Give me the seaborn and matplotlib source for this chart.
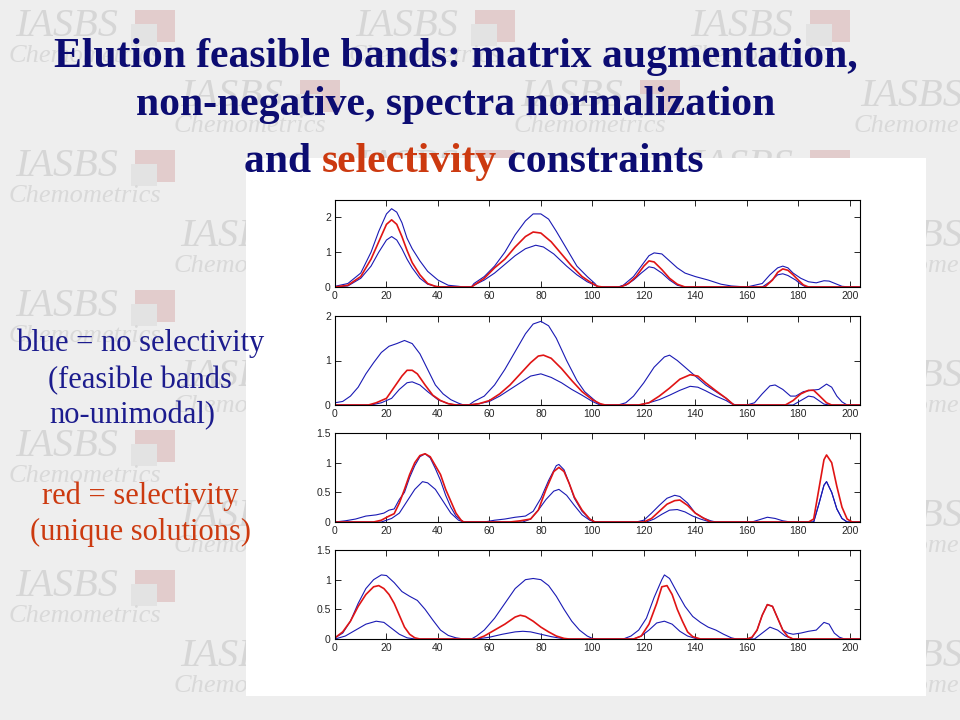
import numpy as np
import pandas as pd
import matplotlib
matplotlib.use("Agg")
import matplotlib.pyplot as plt
import seaborn as sns
from matplotlib.patches import Rectangle

# valores: pares (tempo, concentração) por curva
# painel 1
p1_hi = [(0, 0.02), (5, 0.1), (10, 0.4), (14, 1.0), (17, 1.6), (20, 2.1), (22, 2.25), (24, 2.15),
         (26, 1.85), (28, 1.4), (30, 1.1), (33, 0.75), (36, 0.45), (40, 0.2), (44, 0.05), (48, 0.02),
         (50, 0), (53, 0), (54, 0.1), (58, 0.3), (62, 0.6), (66, 1.0), (70, 1.5), (74, 1.9), (77, 2.1),
         (80, 2.1), (83, 1.95), (86, 1.6), (90, 1.1), (94, 0.6), (98, 0.3), (101, 0.1), (102, 0),
         (110, 0), (112, 0.05), (116, 0.3), (119, 0.6), (122, 0.9), (124, 0.98), (127, 0.95),
         (130, 0.75), (133, 0.55), (136, 0.4), (140, 0.3), (145, 0.2), (150, 0.08), (154, 0.03),
         (160, 0), (163, 0.05), (166, 0.1), (169, 0.35), (172, 0.55), (174, 0.6), (176, 0.55),
         (178, 0.4), (181, 0.25), (184, 0.15), (187, 0.12), (190, 0.18), (192, 0.17), (195, 0.08),
         (197, 0.02), (200, 0), (204, 0)]
p1_lo = [(0, 0), (5, 0.03), (10, 0.25), (14, 0.6), (17, 1.0), (20, 1.35), (22, 1.45), (24, 1.35),
         (26, 1.1), (28, 0.8), (30, 0.55), (33, 0.25), (36, 0.08), (40, 0), (53, 0), (54, 0.05),
         (58, 0.2), (62, 0.4), (66, 0.65), (70, 0.9), (74, 1.1), (78, 1.2), (81, 1.15), (85, 0.95),
         (90, 0.6), (94, 0.35), (98, 0.15), (101, 0.05), (103, 0), (110, 0), (113, 0.05), (116, 0.2),
         (119, 0.4), (122, 0.58), (124, 0.55), (127, 0.4), (130, 0.2), (133, 0.05), (136, 0),
         (166, 0), (169, 0.15), (172, 0.35), (174, 0.38), (176, 0.33), (179, 0.2), (181, 0.08),
         (183, 0), (204, 0)]
p1_red = [(0, 0), (5, 0.05), (10, 0.3), (14, 0.8), (17, 1.3), (20, 1.8), (22, 1.93), (24, 1.8),
          (26, 1.45), (28, 1.05), (30, 0.7), (33, 0.35), (36, 0.1), (39, 0.02), (41, 0), (53, 0),
          (54, 0.05), (58, 0.25), (62, 0.55), (66, 0.8), (70, 1.15), (74, 1.45), (77, 1.58),
          (80, 1.55), (84, 1.3), (88, 0.95), (92, 0.6), (96, 0.3), (100, 0.1), (102, 0.02), (104, 0),
          (111, 0), (114, 0.1), (117, 0.3), (120, 0.6), (122, 0.75), (124, 0.72), (127, 0.5),
          (130, 0.25), (133, 0.08), (136, 0), (167, 0), (170, 0.2), (172, 0.42), (174, 0.52),
          (176, 0.48), (178, 0.35), (180, 0.2), (182, 0.06), (184, 0), (204, 0)]

# painel 2
p2_hi = [(0, 0.05), (3, 0.08), (6, 0.2), (9, 0.4), (12, 0.7), (15, 0.95), (18, 1.18), (21, 1.32),
         (24, 1.38), (27, 1.45), (30, 1.38), (33, 1.15), (36, 0.8), (39, 0.45), (42, 0.25),
         (45, 0.12), (48, 0.04), (50, 0), (52, 0), (54, 0.08), (58, 0.2), (62, 0.45), (66, 0.8),
         (70, 1.2), (74, 1.6), (77, 1.82), (80, 1.88), (83, 1.78), (86, 1.5), (90, 1.0), (94, 0.55),
         (97, 0.3), (100, 0.15), (102, 0.05), (104, 0), (110, 0), (113, 0.05), (116, 0.2),
         (120, 0.5), (124, 0.85), (128, 1.08), (130, 1.12), (133, 1.0), (136, 0.85), (140, 0.65),
         (144, 0.45), (148, 0.3), (152, 0.15), (154, 0.05), (155, 0), (160, 0), (163, 0.05),
         (166, 0.25), (169, 0.43), (171, 0.45), (174, 0.35), (177, 0.2), (179, 0.2), (182, 0.3),
         (185, 0.33), (188, 0.35), (191, 0.47), (193, 0.4), (195, 0.2), (197, 0.07), (199, 0),
         (204, 0)]
p2_lo = [(0, 0), (14, 0), (18, 0.05), (22, 0.15), (25, 0.35), (28, 0.5), (30, 0.52), (33, 0.45),
         (36, 0.3), (40, 0.12), (44, 0.03), (47, 0), (52, 0), (56, 0.03), (60, 0.08), (64, 0.2),
         (68, 0.35), (72, 0.5), (76, 0.65), (80, 0.7), (84, 0.62), (88, 0.5), (92, 0.35), (96, 0.22),
         (100, 0.08), (103, 0), (118, 0), (122, 0.05), (126, 0.12), (130, 0.22), (134, 0.33),
         (138, 0.42), (141, 0.4), (144, 0.32), (148, 0.2), (152, 0.1), (154, 0.03), (156, 0),
         (178, 0), (181, 0.1), (184, 0.2), (186, 0.18), (188, 0.1), (190, 0.02), (192, 0), (204, 0)]
p2_red = [(0, 0), (13, 0), (16, 0.05), (20, 0.15), (23, 0.4), (26, 0.65), (28, 0.78), (30, 0.78),
          (32, 0.7), (35, 0.45), (38, 0.22), (41, 0.1), (44, 0.03), (47, 0), (52, 0), (56, 0.03),
          (60, 0.1), (64, 0.25), (68, 0.45), (72, 0.7), (76, 0.95), (79, 1.1), (81, 1.12),
          (84, 1.05), (88, 0.82), (92, 0.55), (96, 0.3), (100, 0.12), (103, 0.03), (105, 0),
          (118, 0), (122, 0.05), (126, 0.2), (130, 0.38), (134, 0.58), (138, 0.68), (141, 0.65),
          (144, 0.5), (148, 0.32), (152, 0.15), (154, 0.05), (155, 0), (175, 0), (178, 0.1),
          (181, 0.25), (184, 0.33), (186, 0.33), (188, 0.22), (191, 0.05), (193, 0), (204, 0)]

# painel 3
p3_hi = [(0, 0), (4, 0.02), (8, 0.05), (12, 0.1), (16, 0.12), (19, 0.15), (21, 0.2), (23, 0.22),
         (25, 0.38), (27, 0.5), (29, 0.75), (31, 0.95), (33, 1.1), (35, 1.15), (37, 1.08),
         (39, 0.9), (41, 0.7), (43, 0.45), (45, 0.25), (47, 0.1), (49, 0.03), (50, 0), (58, 0),
         (62, 0.03), (66, 0.05), (70, 0.08), (74, 0.1), (77, 0.18), (80, 0.4), (83, 0.7),
         (86, 0.95), (87, 0.97), (89, 0.88), (91, 0.65), (93, 0.4), (96, 0.18), (99, 0.05),
         (101, 0), (117, 0), (120, 0.03), (123, 0.15), (126, 0.28), (129, 0.4), (132, 0.45),
         (134, 0.43), (137, 0.32), (140, 0.15), (143, 0.07), (146, 0.02), (148, 0), (162, 0),
         (165, 0.04), (168, 0.08), (171, 0.06), (174, 0.02), (177, 0), (186, 0), (188, 0.3),
         (190, 0.62), (191, 0.68), (193, 0.5), (195, 0.22), (197, 0.06), (199, 0), (204, 0)]
p3_lo = [(0, 0), (18, 0), (20, 0.03), (22, 0.06), (25, 0.15), (28, 0.35), (31, 0.55), (34, 0.68),
         (36, 0.66), (39, 0.55), (42, 0.35), (45, 0.15), (48, 0.03), (50, 0), (73, 0), (76, 0.05),
         (79, 0.2), (82, 0.38), (85, 0.52), (87, 0.55), (90, 0.45), (93, 0.28), (96, 0.12),
         (99, 0.03), (101, 0), (121, 0), (124, 0.05), (127, 0.13), (130, 0.2), (133, 0.21),
         (136, 0.17), (139, 0.1), (142, 0.05), (145, 0.01), (147, 0), (186, 0), (188, 0.3),
         (190, 0.62), (191, 0.68), (193, 0.5), (195, 0.22), (197, 0.06), (199, 0), (204, 0)]
p3_red = [(0, 0), (15, 0), (18, 0.03), (21, 0.1), (23, 0.14), (25, 0.32), (27, 0.55), (29, 0.8),
          (31, 1.0), (33, 1.12), (35, 1.15), (37, 1.1), (39, 0.95), (41, 0.8), (43, 0.55),
          (45, 0.35), (47, 0.15), (49, 0.03), (50, 0), (68, 0), (72, 0.02), (76, 0.05), (79, 0.2),
          (82, 0.55), (85, 0.85), (87, 0.92), (89, 0.85), (91, 0.65), (93, 0.42), (96, 0.2),
          (99, 0.05), (101, 0), (120, 0), (123, 0.06), (126, 0.18), (129, 0.3), (132, 0.36),
          (134, 0.37), (137, 0.28), (140, 0.15), (143, 0.07), (146, 0), (184, 0), (186, 0.05),
          (188, 0.55), (190, 1.05), (191, 1.13), (193, 1.0), (195, 0.6), (197, 0.25), (199, 0.05),
          (201, 0), (204, 0)]

# painel 4
p4_hi = [(0, 0.02), (3, 0.1), (6, 0.3), (9, 0.6), (12, 0.85), (15, 1.0), (18, 1.08), (20, 1.07),
         (23, 0.95), (26, 0.8), (29, 0.72), (32, 0.65), (35, 0.5), (38, 0.32), (41, 0.15),
         (44, 0.06), (47, 0.02), (50, 0), (53, 0), (55, 0.05), (58, 0.15), (62, 0.35), (66, 0.6),
         (70, 0.85), (74, 1.0), (77, 1.02), (80, 1.0), (83, 0.9), (86, 0.72), (89, 0.5), (92, 0.3),
         (95, 0.15), (98, 0.05), (100, 0.01), (102, 0), (112, 0), (115, 0.05), (118, 0.15),
         (121, 0.35), (124, 0.7), (127, 1.0), (128, 1.08), (130, 1.02), (133, 0.78), (136, 0.55),
         (139, 0.38), (142, 0.28), (145, 0.2), (148, 0.15), (151, 0.08), (154, 0.02), (156, 0),
         (160, 0), (162, 0.02), (164, 0.15), (166, 0.4), (168, 0.58), (170, 0.55), (172, 0.35),
         (174, 0.15), (176, 0.1), (178, 0.08), (181, 0.1), (184, 0.13), (187, 0.15), (190, 0.28),
         (192, 0.25), (194, 0.1), (196, 0.03), (198, 0), (204, 0)]
p4_lo = [(0, 0), (4, 0.05), (8, 0.15), (12, 0.25), (16, 0.3), (19, 0.28), (22, 0.18), (25, 0.08),
         (28, 0.02), (31, 0), (55, 0), (60, 0.03), (65, 0.08), (70, 0.12), (73, 0.13), (76, 0.12),
         (80, 0.08), (84, 0.04), (88, 0.01), (90, 0), (116, 0), (119, 0.05), (122, 0.15),
         (125, 0.27), (128, 0.3), (131, 0.25), (134, 0.13), (137, 0.05), (140, 0.01), (142, 0),
         (163, 0), (166, 0.1), (169, 0.2), (172, 0.15), (175, 0.05), (178, 0), (204, 0)]
p4_red = [(0, 0.02), (3, 0.12), (6, 0.3), (9, 0.55), (12, 0.75), (15, 0.88), (17, 0.9), (19, 0.85),
          (21, 0.75), (23, 0.6), (25, 0.4), (27, 0.2), (29, 0.08), (31, 0.02), (33, 0), (55, 0),
          (58, 0.05), (62, 0.15), (66, 0.25), (70, 0.37), (72, 0.4), (74, 0.38), (77, 0.3),
          (80, 0.2), (83, 0.12), (86, 0.05), (89, 0.01), (91, 0), (116, 0), (119, 0.05),
          (122, 0.25), (125, 0.6), (127, 0.88), (129, 0.9), (131, 0.75), (133, 0.5), (135, 0.3),
          (137, 0.12), (139, 0.04), (142, 0), (160, 0), (162, 0.03), (164, 0.15), (166, 0.4),
          (168, 0.58), (170, 0.55), (172, 0.35), (174, 0.15), (176, 0.04), (178, 0), (204, 0)]

x_ticks = [0, 20, 40, 60, 80, 100, 120, 140, 160, 180, 200]
y_ticks_a = [0, 1, 2]
y_labels_a = ["0", "1", "2"]
y_ticks_b = [0, 0.5, 1, 1.5]
y_labels_b = ["0", "0.5", "1", "1.5"]

title_lines = ["Elution feasible bands: matrix augmentation,",
               "non-negative, spectra normalization"]
title_last = ["and ", "selectivity", " constraints"]
side_blue = ["blue = no selectivity", "(feasible bands", "no-unimodal)"]
side_red = ["red = selectivity", "(unique solutions)"]

BLUE = "#1a1ab4"
RED = "#e01414"
NAVY = "#0c0c72"
ORANGE = "#cc3a10"

sns.set_style("ticks", {"xtick.direction": "in", "ytick.direction": "in"})
plt.rcParams["font.family"] = ["Liberation Serif", "DejaVu Serif"]

W, H = 960, 720
fig = plt.figure(figsize=(9.6, 7.2), dpi=100, facecolor="#eeeeee")


def fx(px):
    return px / W


def fy(py):
    return 1 - py / H


# marca d'água do fundo
for r in range(10):
    y0 = 4 + 70 * r
    cols = [15, 355, 690] if r % 2 == 0 else [180, 520, 860]
    for x0 in cols:
        fig.text(fx(x0), fy(y0 + 32), "IASBS", fontsize=29, style="italic",
                 color="#d6d6d6", va="baseline", ha="left", zorder=0.2)
        fig.patches.append(Rectangle((fx(x0 + 120), fy(y0 + 38)), 40 / W, 32 / H,
                                     transform=fig.transFigure, facecolor="#e2cccc",
                                     edgecolor="none", zorder=0.1))
        fig.patches.append(Rectangle((fx(x0 + 116), fy(y0 + 42)), 26 / W, 22 / H,
                                     transform=fig.transFigure, facecolor="#e3e3e3",
                                     edgecolor="none", zorder=0.15))
        fig.text(fx(x0 - 6), fy(y0 + 58), "Chemometrics", fontsize=19, style="italic",
                 color="#d9d9d9", va="baseline", ha="left", zorder=0.2)

# caixa branca do gráfico
fig.patches.append(Rectangle((fx(246), fy(696)), 680 / W, 538 / H, transform=fig.transFigure,
                             facecolor="white", edgecolor="none", zorder=1))

panels = [
    (p1_hi, p1_lo, p1_red, 200, 287, 2.5, y_ticks_a, y_labels_a),
    (p2_hi, p2_lo, p2_red, 316, 405, 2.0, y_ticks_a, y_labels_a),
    (p3_hi, p3_lo, p3_red, 433, 522, 1.5, y_ticks_b, y_labels_b),
    (p4_hi, p4_lo, p4_red, 550, 639, 1.5, y_ticks_b, y_labels_b),
]

for hi, lo, red, top, bot, ymax, yt, yl in panels:
    ax = fig.add_axes([fx(335), fy(bot), 525 / W, (bot - top) / H])
    ax.set_zorder(2)
    for curve, col, lw in [(hi, BLUE, 0.8), (lo, BLUE, 0.8), (red, RED, 1.2)]:
        df = pd.DataFrame(curve, columns=["t", "c"])
        sns.lineplot(data=df, x="t", y="c", ax=ax, color=col, linewidth=lw,
                     estimator=None, sort=False)
    ax.set_xlim(0, 204)
    ax.set_ylim(0, ymax)
    ax.set_xticks(x_ticks)
    ax.set_yticks(yt, yl)
    ax.set_xlabel("")
    ax.set_ylabel("")
    ax.tick_params(direction="in", top=True, right=True, length=4, width=0.7,
                   labelsize=7.5, pad=3)
    for lab in ax.get_xticklabels() + ax.get_yticklabels():
        lab.set_fontfamily("Liberation Sans")
    for sp in ax.spines.values():
        sp.set_visible(True)
        sp.set_linewidth(0.8)
        sp.set_color("black")

# título
TS = 30
fig.text(fx(456), fy(57), title_lines[0], fontsize=TS, fontweight="bold", color=NAVY,
         ha="center", va="center", zorder=3)
fig.text(fx(456), fy(105), title_lines[1], fontsize=TS, fontweight="bold", color=NAVY,
         ha="center", va="center", zorder=3)

over = fig.add_axes([0, 0, 1, 1], facecolor="none")
over.set_axis_off()
over.set_zorder(4)
t1 = over.text(fx(244), fy(172), title_last[0], fontsize=TS, fontweight="bold", color=NAVY,
               ha="left", va="baseline", transform=fig.transFigure)
t2 = over.annotate(title_last[1], xy=(1, 0), xycoords=t1, fontsize=TS, fontweight="bold",
                   color=ORANGE, ha="left", va="bottom")
over.annotate(title_last[2], xy=(1, 0), xycoords=t2, fontsize=TS, fontweight="bold",
              color=NAVY, ha="left", va="bottom")

# texto lateral
SS = 22
for txt, xx, yy in zip(side_blue, [140, 140, 132], [343, 381, 416]):
    fig.text(fx(xx), fy(yy), txt, fontsize=SS, color="#1c1c8e", ha="center", va="center",
             zorder=3)
for txt, yy in zip(side_red, [496, 532]):
    fig.text(fx(140), fy(yy), txt, fontsize=SS, color=ORANGE, ha="center", va="center",
             zorder=3)

fig.savefig("out.png", dpi=100, facecolor=fig.get_facecolor())
